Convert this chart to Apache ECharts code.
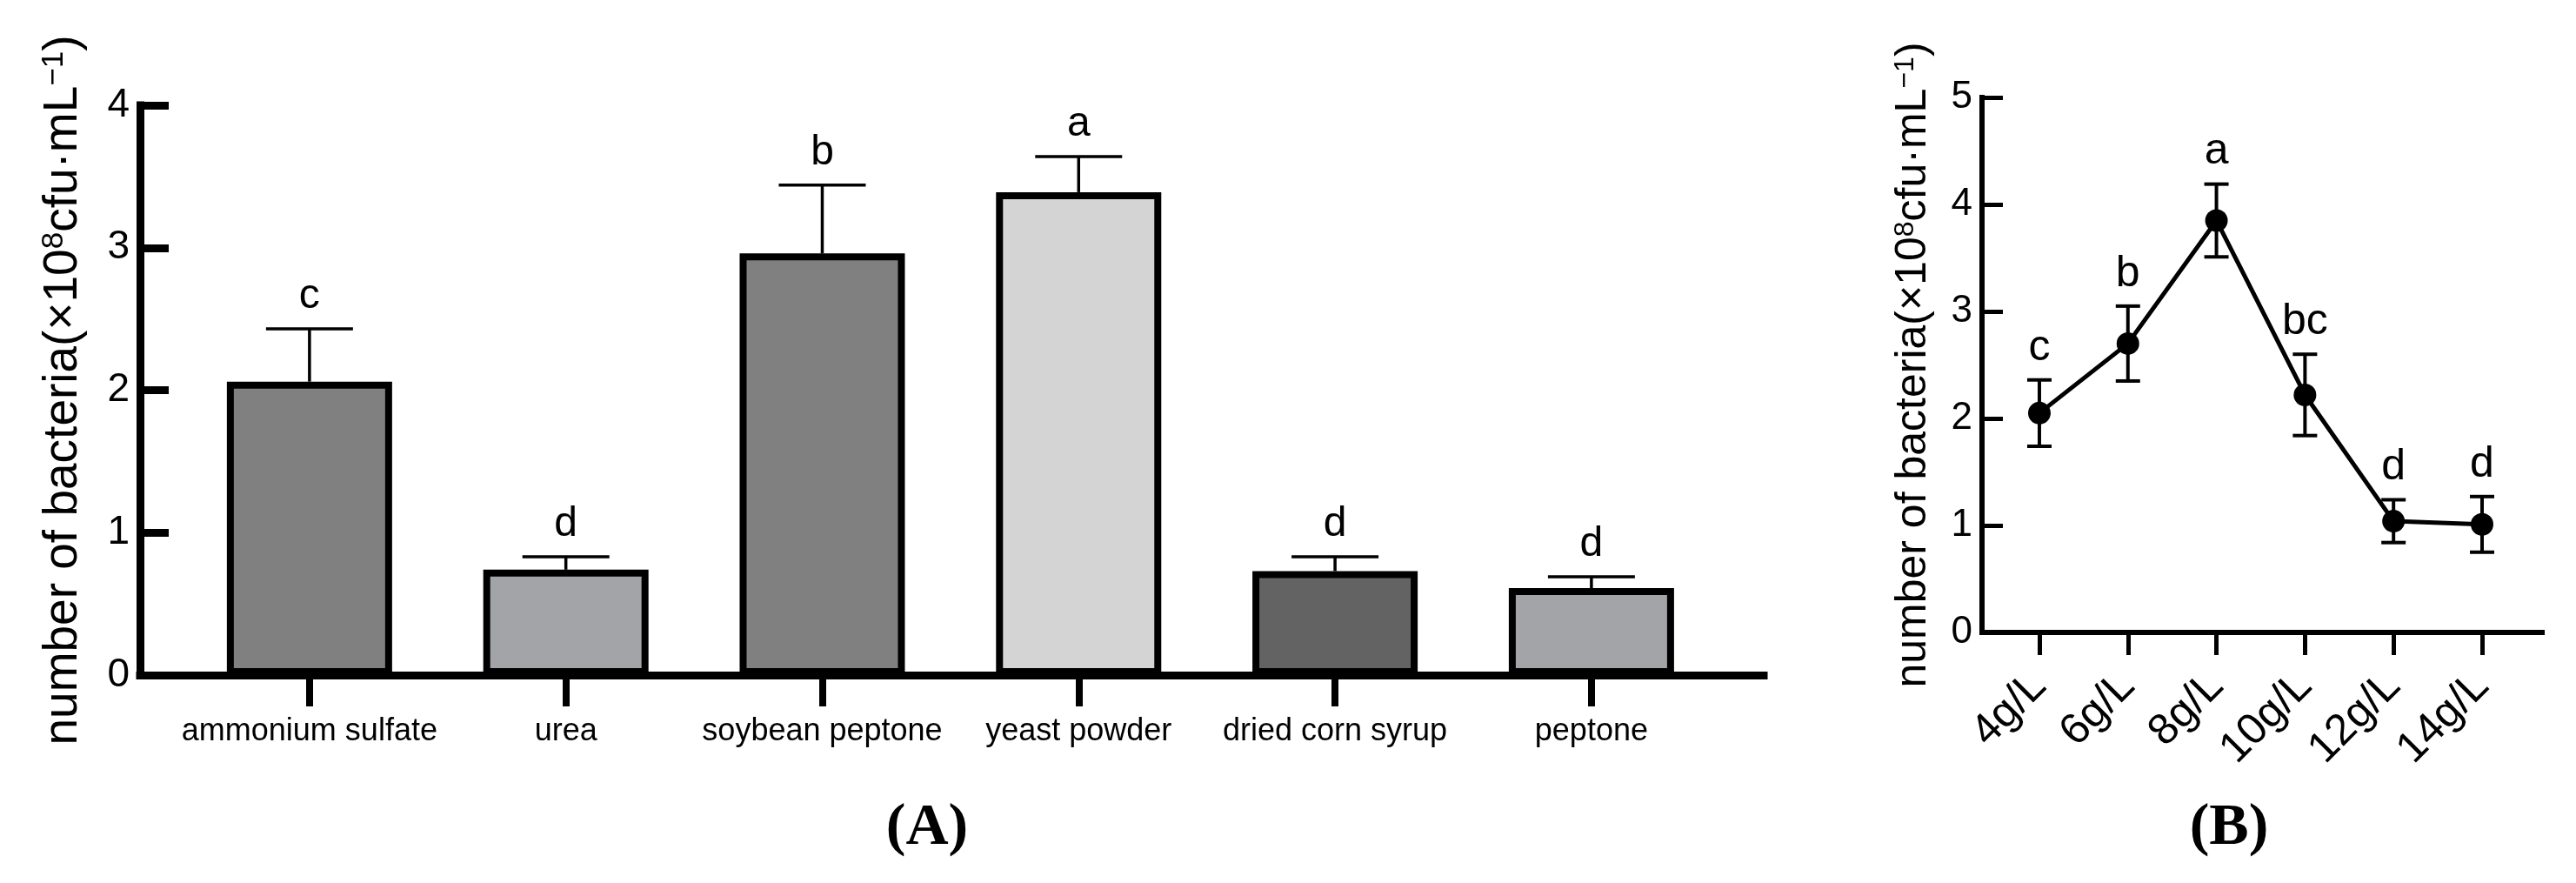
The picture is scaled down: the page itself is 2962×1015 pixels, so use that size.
<!DOCTYPE html>
<html>
<head>
<meta charset="utf-8">
<script src="https://cdn.jsdelivr.net/npm/echarts@6/dist/echarts.min.js"></script>
<style>
html,body{margin:0;padding:0;background:#fff;}
#chart{width:2962px;height:1015px;}
</style>
</head>
<body>
<div id="chart"></div>
<script>
// ---------- DATA ----------
const categoriesA = ['ammonium sulfate', 'urea', 'soybean peptone', 'yeast powder', 'dried corn syrup', 'peptone'];
const meansA = [2.06, 0.74, 2.96, 3.39, 0.73, 0.61];
const errorsA = [0.37, 0.09, 0.48, 0.25, 0.10, 0.08];
const lettersA = ['c', 'd', 'b', 'a', 'd', 'd'];
const yTicksA = [0, 1, 2, 3, 4];

const categoriesB = ['4g/L', '6g/L', '8g/L', '10g/L', '12g/L', '14g/L'];
const meansB = [2.05, 2.70, 3.85, 2.22, 1.04, 1.01];
const errorsB = [0.31, 0.35, 0.34, 0.38, 0.20, 0.26];
const lettersB = ['c', 'b', 'a', 'bc', 'd', 'd'];
const yTicksB = [0, 1, 2, 3, 4, 5];

const yTitle = 'number of bacteria(×10{sup|8}cfu·mL{sup|−1})';
const captions = ['(A)', '(B)'];

// ---------- STYLE ----------
const barColors = ['#808080', '#a3a4a8', '#808080', '#d4d4d4', '#636363', '#a3a4a8'];
const FONT = '"Liberation Sans", Arial, Helvetica, sans-serif';
const SERIF = '"Liberation Serif", "Times New Roman", serif';

const idxA = categoriesA.map((c, i) => i);
const idxB = categoriesB.map((c, i) => i);

function errRenderer(capHalf, lw, both) {
  return function (params, api) {
    const x = api.value(0), y = api.value(1), e = api.value(2);
    const pTop = api.coord([x, y + e]);
    const pBot = api.coord([x, both ? y - e : y]);
    const st = { stroke: '#000', lineWidth: lw };
    const children = [
      { type: 'line', shape: { x1: pTop[0], y1: pTop[1], x2: pBot[0], y2: pBot[1] }, style: st },
      { type: 'line', shape: { x1: pTop[0] - capHalf, y1: pTop[1], x2: pTop[0] + capHalf, y2: pTop[1] }, style: st }
    ];
    if (both) {
      children.push({ type: 'line', shape: { x1: pBot[0] - capHalf, y1: pBot[1], x2: pBot[0] + capHalf, y2: pBot[1] }, style: st });
    }
    return { type: 'group', children: children };
  };
}

const supStyle = (fs) => ({ fontSize: fs, fontFamily: FONT, color: '#000', verticalAlign: 'top' });
const captionStyle = { fontFamily: SERIF, fontWeight: 'bold', fontSize: 68, color: '#000' };

const chart = echarts.init(document.getElementById('chart'), null, { renderer: 'canvas' });
chart.setOption({
  animation: false,
  backgroundColor: '#ffffff',
  title: [
    { text: captions[0], left: 1066, top: 918, textAlign: 'center', padding: 0, textStyle: captionStyle },
    { text: captions[1], left: 2563, top: 918, textAlign: 'center', padding: 0, textStyle: captionStyle }
  ],
  grid: [
    { left: 161, top: 121, width: 1867, height: 655, containLabel: false, outerBoundsMode: 'none' },
    { left: 2279, top: 112, width: 644, height: 615, containLabel: false, outerBoundsMode: 'none' }
  ],
  xAxis: [
    {
      gridIndex: 0, type: 'value', min: -0.661, max: 5.672,
      splitLine: { show: false },
      axisLine: { onZero: false, lineStyle: { color: '#000', width: 9, cap: 'square' } },
      axisTick: { show: true, customValues: idxA, length: 36, lineStyle: { color: '#000', width: 8 } },
      axisLabel: { show: true, customValues: idxA, margin: 47, fontSize: 36, fontFamily: FONT, color: '#000',
        formatter: (v) => categoriesA[Math.round(v)] }
    },
    {
      gridIndex: 1, type: 'value', min: -0.648, max: 5.678,
      splitLine: { show: false },
      axisLine: { onZero: false, lineStyle: { color: '#000', width: 6, cap: 'square' } },
      axisTick: { show: true, customValues: idxB, length: 26, lineStyle: { color: '#000', width: 5 } },
      axisLabel: { show: true, customValues: idxB, margin: 54, rotate: 45, fontSize: 50, fontFamily: FONT, color: '#000',
        formatter: (v) => categoriesB[Math.round(v)] }
    }
  ],
  yAxis: [
    {
      gridIndex: 0, type: 'value', min: yTicksA[0], max: yTicksA[yTicksA.length - 1], interval: 1,
      splitLine: { show: false },
      axisLine: { show: true, onZero: false, lineStyle: { color: '#000', width: 9, cap: 'square' } },
      axisTick: { show: true, inside: true, length: 33, lineStyle: { color: '#000', width: 9 } },
      axisLabel: { margin: 12, fontSize: 46, fontFamily: FONT, color: '#000' },
      name: yTitle, nameLocation: 'middle', nameGap: 61, nameMoveOverlap: false,
      nameTextStyle: { fontSize: 55, fontFamily: FONT, color: '#000', rich: { sup: supStyle(35) } }
    },
    {
      gridIndex: 1, type: 'value', min: yTicksB[0], max: yTicksB[yTicksB.length - 1], interval: 1,
      splitLine: { show: false },
      axisLine: { show: true, onZero: false, lineStyle: { color: '#000', width: 6, cap: 'square' } },
      axisTick: { show: true, inside: true, length: 24, lineStyle: { color: '#000', width: 5 } },
      axisLabel: { margin: 11, fontSize: 44, fontFamily: FONT, color: '#000' },
      name: yTitle, nameLocation: 'middle', nameGap: 54, nameMoveOverlap: false,
      nameTextStyle: { fontSize: 50, fontFamily: FONT, color: '#000', rich: { sup: supStyle(32) } }
    }
  ],
  series: [
    // Panel A error bars (upper only)
    {
      type: 'custom', xAxisIndex: 0, yAxisIndex: 0, silent: true, z: 1,
      renderItem: errRenderer(50, 3.5, false),
      data: meansA.map((m, i) => [i, m, errorsA[i]])
    },
    // Panel A bars
    {
      type: 'bar', xAxisIndex: 0, yAxisIndex: 0, silent: true, z: 2,
      barWidth: 190,
      data: meansA.map((m, i) => ({ value: [i, m], itemStyle: { color: barColors[i] } })),
      itemStyle: { borderColor: '#000', borderWidth: 8 }
    },
    // Panel A letters
    {
      type: 'scatter', xAxisIndex: 0, yAxisIndex: 0, silent: true, symbolSize: 0,
      itemStyle: { opacity: 1 },
      data: meansA.map((m, i) => [i, m + errorsA[i]]),
      label: { show: true, position: 'top', distance: 13, fontSize: 48, fontFamily: FONT, color: '#000', opacity: 1,
        formatter: (p) => lettersA[p.dataIndex] }
    },
    // Panel B error bars
    {
      type: 'custom', xAxisIndex: 1, yAxisIndex: 1, silent: true, z: 1,
      renderItem: errRenderer(14, 4, true),
      data: meansB.map((m, i) => [i, m, errorsB[i]])
    },
    // Panel B line
    {
      type: 'line', xAxisIndex: 1, yAxisIndex: 1, silent: true, z: 3,
      symbol: 'circle', symbolSize: 26,
      itemStyle: { color: '#000', opacity: 1 },
      lineStyle: { color: '#000', width: 5 },
      data: meansB.map((m, i) => [i, m])
    },
    // Panel B letters
    {
      type: 'scatter', xAxisIndex: 1, yAxisIndex: 1, silent: true, symbolSize: 0,
      itemStyle: { opacity: 1 },
      data: meansB.map((m, i) => [i, m + errorsB[i]]),
      label: { show: true, position: 'top', distance: 12, fontSize: 50, fontFamily: FONT, color: '#000', opacity: 1,
        formatter: (p) => lettersB[p.dataIndex] }
    }
  ]
});
</script>
</body>
</html>
